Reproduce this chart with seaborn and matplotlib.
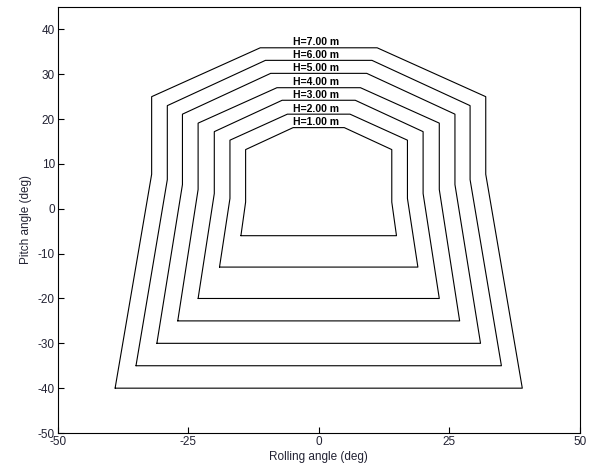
import pandas as pd
import seaborn as sns
import matplotlib.pyplot as plt

# wave heights and contour corner values (deg)
heights = [1, 2, 3, 4, 5, 6, 7]
top_x = [4.9, 6.0, 7.0, 8.0, 9.2, 10.2, 11.2]
top_y = [18.1, 21.1, 24.2, 27.0, 30.2, 33.1, 35.9]
shoulder_x = [14.0, 17.0, 20.0, 23.1, 26.1, 29.0, 32.0]
shoulder_y = [13.2, 15.3, 17.2, 19.1, 21.1, 23.0, 25.0]
knee_y = [1.5, 2.3, 3.4, 4.3, 5.4, 6.5, 7.7]
base_x = [14.9, 19.0, 23.1, 27.0, 31.0, 35.0, 39.0]
base_y = [-6, -13, -20, -25, -30, -35, -40]

x_ticks = [-50, -25, 0, 25, 50]
y_ticks = [-50, -40, -30, -20, -10, 0, 10, 20, 30, 40]

# build closed polygon for each contour
rows = []
for i, h in enumerate(heights):
    xs = [-base_x[i], -shoulder_x[i], -shoulder_x[i], -top_x[i],
          top_x[i], shoulder_x[i], shoulder_x[i], base_x[i], -base_x[i]]
    ys = [base_y[i], knee_y[i], shoulder_y[i], top_y[i],
          top_y[i], shoulder_y[i], knee_y[i], base_y[i], base_y[i]]
    for k, (x, y) in enumerate(zip(xs, ys)):
        rows.append({"H": h, "order": k, "roll": x, "pitch": y})
df = pd.DataFrame(rows)

sns.set_style("white")
plt.rcParams['font.family'] = ['Liberation Sans', 'DejaVu Sans']
plt.rcParams['axes.unicode_minus'] = False

fig = plt.figure(figsize=(5.91, 4.72), dpi=100)
ax = fig.add_axes([0.0976, 0.0826, 0.8833, 0.9026])

sns.lineplot(data=df, x="roll", y="pitch", units="H", estimator=None,
             sort=False, color="black", linewidth=0.8, ax=ax)

for i, h in enumerate(heights):
    ax.text(-0.5, top_y[i] + 0.1, f"H={h:.2f} m", ha="center", va="bottom",
            fontsize=7.5, fontweight="bold", color="black")

txt = "#222233"
ax.set_xlim(-50, 50)
ax.set_ylim(-50, 45)
ax.set_xticks(x_ticks)
ax.set_yticks(y_ticks)
ax.tick_params(direction="in", length=4, width=0.8, labelsize=8.5,
               colors="black", labelcolor=txt, pad=2,
               bottom=True, left=True)
ax.set_xlabel("Rolling angle (deg)", fontsize=8.5, color=txt, labelpad=2)
ax.set_ylabel("Pitch angle (deg)", fontsize=8.5, color=txt, labelpad=4)
for s in ax.spines.values():
    s.set_color("black")
    s.set_linewidth(0.8)

fig.savefig("out.png", dpi=100)
